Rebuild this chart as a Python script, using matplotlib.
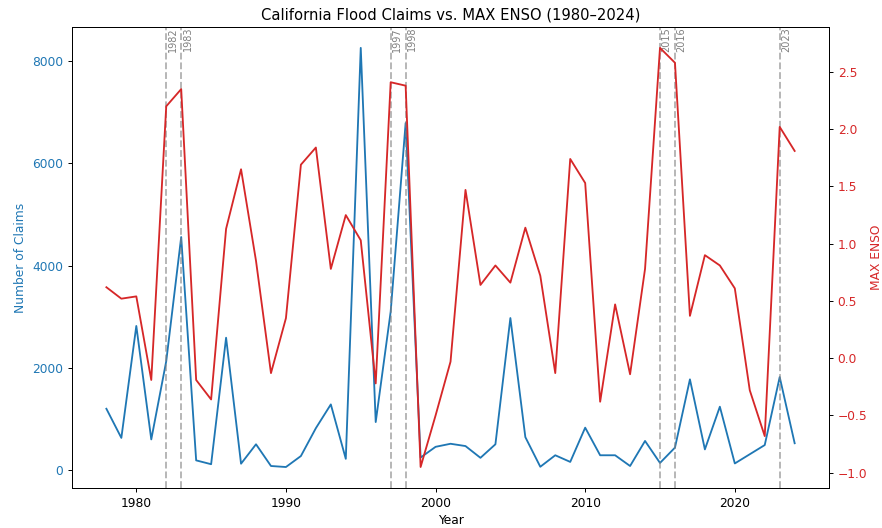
import matplotlib
matplotlib.use("Agg")
import matplotlib.pyplot as plt

years = list(range(1978, 2025))
claims = [1200, 630, 2820, 600, 2130, 4560, 190, 115, 2590, 125, 505, 80, 60, 275, 820, 1285, 220, 8260,
          940, 3100, 6790, 245, 455, 515, 470, 240, 505, 2975, 645, 65, 290, 160, 830, 290, 290, 80,
          570, 140, 440, 1775, 405, 1240, 130, 310, 490, 1820, 525]
enso = [0.62, 0.52, 0.54, -0.19, 2.20, 2.35, -0.19, -0.36, 1.13, 1.65, 0.85, -0.13, 0.35, 1.69, 1.84, 0.78,
        1.25, 1.03, -0.22, 2.41, 2.38, -0.95, -0.50, -0.03, 1.47, 0.64, 0.81, 0.66, 1.14, 0.72, -0.13, 1.74,
        1.53, -0.38, 0.47, -0.14, 0.78, 2.71, 2.58, 0.37, 0.90, 0.81, 0.61, -0.28, -0.68, 2.02, 1.81]
event_years = [1982, 1983, 1997, 1998, 2015, 2016, 2023]

DPI = 88.2
fig, ax1 = plt.subplots(figsize=(882 / DPI, 528 / DPI), dpi=DPI)
fig.subplots_adjust(left=0.0816, right=0.94, top=0.949, bottom=0.0758)

ax1.plot(years, claims, color='tab:blue', label='Claims')
ax1.set_xlabel('Year')
ax1.set_ylabel('Number of Claims', color='tab:blue')
ax1.tick_params(axis='y', labelcolor='tab:blue')

ax2 = ax1.twinx()
ax2.plot(years, enso, color='tab:red', label='MAX ENSO')
ax2.set_ylabel('MAX ENSO', color='tab:red', labelpad=2)
ax2.tick_params(axis='y', labelcolor='tab:red')

ytop = ax1.get_ylim()[1]
for yr in event_years:
    ax1.axvline(yr, color='gray', linestyle='--', alpha=0.6)
    ax1.text(yr + 0.1, ytop, str(yr), rotation=90, va='top', ha='left', fontsize=8, color='gray')

ax1.set_title('California Flood Claims vs. MAX ENSO (1980–2024)')
fig.savefig('out.png', dpi=DPI)
